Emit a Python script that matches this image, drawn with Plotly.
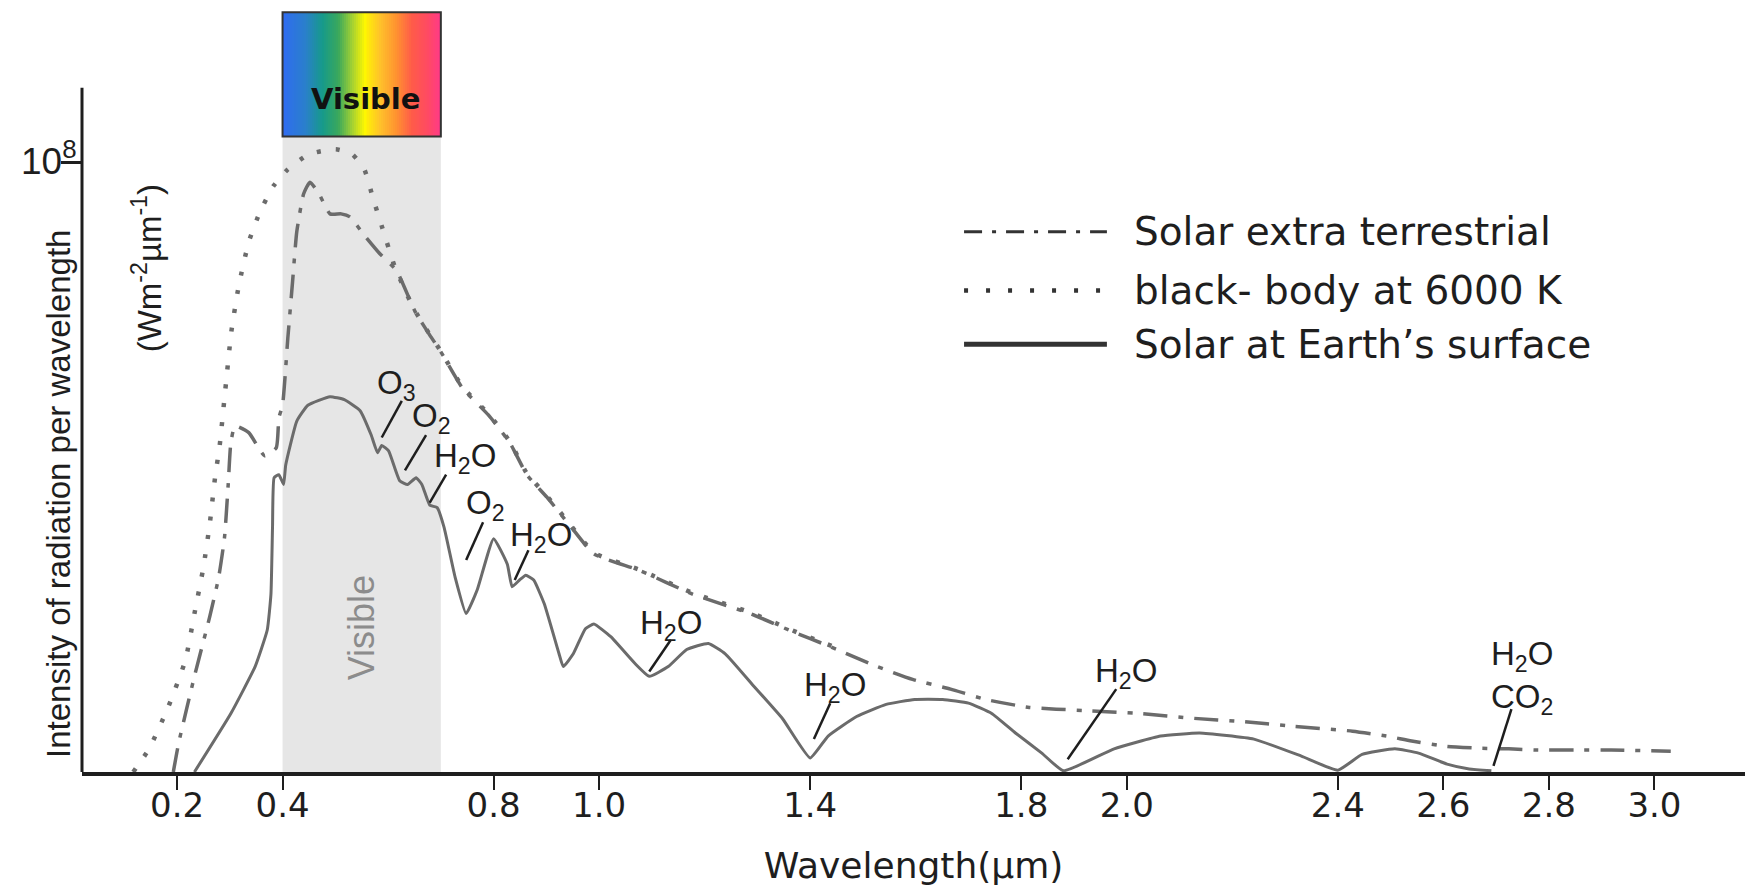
import plotly.graph_objects as go
import numpy as np

# ---------------- data ----------------
# wavelength in micrometres, intensity in units of 1e8 W m^-2 um^-1
surface_wl = [0.233, 0.302, 0.348, 0.371, 0.378, 0.381, 0.384, 0.393, 0.402, 0.406,
              0.427, 0.448, 0.490, 0.517, 0.547, 0.568, 0.580, 0.588, 0.601, 0.622,
              0.637, 0.653, 0.664, 0.679, 0.693, 0.706, 0.727, 0.748, 0.769, 0.800,
              0.826, 0.835, 0.849, 0.861, 0.876, 0.896, 0.924, 0.932, 0.951, 0.974,
              0.990, 1.022, 1.068, 1.095, 1.131, 1.166, 1.207, 1.239, 1.294, 1.348,
              1.400, 1.434, 1.488, 1.544, 1.598, 1.651, 1.700, 1.744, 1.789, 1.839,
              1.880, 1.976, 2.064, 2.138, 2.241, 2.331, 2.400, 2.446, 2.508, 2.553,
              2.607, 2.649, 2.691]
surface_val = [0.000, 0.096, 0.173, 0.233, 0.292, 0.402, 0.483, 0.488, 0.472, 0.504,
               0.576, 0.602, 0.616, 0.611, 0.593, 0.553, 0.524, 0.536, 0.527, 0.478,
               0.472, 0.483, 0.472, 0.438, 0.434, 0.402, 0.320, 0.260, 0.299, 0.383,
               0.341, 0.304, 0.315, 0.323, 0.315, 0.276, 0.194, 0.173, 0.194, 0.235,
               0.243, 0.222, 0.178, 0.157, 0.173, 0.201, 0.211, 0.194, 0.140, 0.087,
               0.023, 0.059, 0.091, 0.111, 0.119, 0.119, 0.113, 0.096, 0.064, 0.031,
               0.002, 0.038, 0.059, 0.064, 0.054, 0.026, 0.003, 0.029, 0.038, 0.031,
               0.013, 0.005, 0.002]

extra_wl = [0.193, 0.203, 0.233, 0.262, 0.279, 0.290, 0.297, 0.302, 0.310, 0.336,
            0.366, 0.388, 0.393, 0.400, 0.410, 0.419, 0.427, 0.440, 0.452, 0.469,
            0.490, 0.511, 0.528, 0.553, 0.584, 0.616, 0.651, 0.679, 0.699, 0.741,
            0.790, 0.831, 0.863, 0.901, 0.947, 0.990, 1.076, 1.177, 1.286, 1.376,
            1.423, 1.459, 1.527, 1.594, 1.666, 1.733, 1.815, 1.917, 2.025, 2.128,
            2.216, 2.315, 2.428, 2.492, 2.540, 2.607, 2.670, 2.724, 2.779, 2.849,
            2.918, 3.031]
extra_val = [0.000, 0.047, 0.157, 0.255, 0.320, 0.385, 0.472, 0.540, 0.568, 0.557,
             0.519, 0.532, 0.581, 0.602, 0.712, 0.805, 0.887, 0.949, 0.968, 0.949,
             0.916, 0.916, 0.911, 0.883, 0.851, 0.823, 0.756, 0.717, 0.691, 0.630,
             0.586, 0.540, 0.488, 0.451, 0.402, 0.358, 0.331, 0.292, 0.260, 0.227,
             0.211, 0.198, 0.173, 0.152, 0.136, 0.119, 0.106, 0.101, 0.096, 0.088,
             0.083, 0.075, 0.067, 0.059, 0.051, 0.042, 0.039, 0.038, 0.036, 0.036,
             0.036, 0.034]

blackbody_wl = [0.117, 0.147, 0.184, 0.216, 0.233, 0.250, 0.262, 0.272, 0.281, 0.290,
                0.303, 0.317, 0.336, 0.357, 0.383, 0.410, 0.450, 0.501, 0.532, 0.555,
                0.572, 0.588, 0.612, 0.635, 0.651, 0.679, 0.699, 0.741, 0.790, 0.831,
                0.863, 0.901, 0.947, 0.990, 1.076, 1.177, 1.286, 1.376, 1.423, 1.467]
blackbody_val = [0.000, 0.038, 0.108, 0.184, 0.260, 0.336, 0.407, 0.483, 0.537, 0.614,
                 0.723, 0.798, 0.870, 0.919, 0.962, 0.989, 1.014, 1.022, 1.014, 0.989,
                 0.940, 0.896, 0.831, 0.785, 0.757, 0.718, 0.692, 0.632, 0.588, 0.542,
                 0.490, 0.453, 0.404, 0.360, 0.332, 0.294, 0.262, 0.229, 0.213, 0.198]

tick_vals = [0.2, 0.4, 0.8, 1.0, 1.4, 1.8, 2.0, 2.4, 2.6, 2.8, 3.0]
tick_text = ["0.2", "0.4", "0.8", "1.0", "1.4", "1.8", "2.0", "2.4", "2.6", "2.8", "3.0"]

visible_band = [0.4, 0.7]          # micrometres
visible_box_y = [1.043, 1.247]     # rainbow box, in intensity units

series_names = ["Solar extra terrestrial", "black- body at 6000 K", "Solar at Earth\u2019s surface"]

absorber_text = ["O<sub>3</sub>", "O<sub>2</sub>", "H<sub>2</sub>O", "O<sub>2</sub>", "H<sub>2</sub>O",
                 "H<sub>2</sub>O", "H<sub>2</sub>O", "H<sub>2</sub>O", "H<sub>2</sub>O<br>CO<sub>2</sub>"]
absorber_x = [0.616, 0.683, 0.746, 0.785, 0.890, 1.136, 1.447, 1.998, 2.749]
absorber_y = [0.635, 0.581, 0.516, 0.439, 0.385, 0.242, 0.140, 0.163, 0.155]
leader_x0 = [0.626, 0.672, 0.710, 0.780, 0.866, 1.136, 1.438, 1.980, 2.729]
leader_y0 = [0.609, 0.553, 0.488, 0.410, 0.364, 0.217, 0.113, 0.136, 0.103]
leader_x1 = [0.588, 0.632, 0.679, 0.748, 0.840, 1.095, 1.407, 1.888, 2.695]
leader_y1 = [0.549, 0.495, 0.442, 0.348, 0.315, 0.165, 0.054, 0.021, 0.010]

# ---------------- styling ----------------
CURVE = "#6b6b6b"
INK = "#1e1e1e"
SANS = "Liberation Sans, Arial, sans-serif"
WIDE = "DejaVu Sans, Verdana, sans-serif"

fig = go.Figure()

# rainbow "Visible" box as a heatmap gradient
n_cells = 80
grad_x = np.linspace(visible_band[0], visible_band[1], n_cells + 1)
fig.add_trace(go.Heatmap(
    x=grad_x, y=visible_box_y, z=[list(range(n_cells))],
    colorscale=[[0.0, "#2f6cf0"], [0.14, "#2a7fcc"], [0.25, "#169a8a"], [0.35, "#3aa85c"],
                [0.44, "#a6d232"], [0.52, "#fff700"], [0.62, "#ffc22a"], [0.72, "#ff9430"],
                [0.82, "#ff5c48"], [0.92, "#ff4a62"], [1.0, "#ff3a86"]],
    showscale=False, hoverinfo="skip", zsmooth=False))

fig.add_trace(go.Scatter(x=blackbody_wl, y=blackbody_val, mode="lines", name=series_names[1],
                         line=dict(color=CURVE, width=4.5, dash="4px,15px", shape="spline", smoothing=0.5),
                         showlegend=False, hoverinfo="skip"))
fig.add_trace(go.Scatter(x=extra_wl, y=extra_val, mode="lines", name=series_names[0],
                         line=dict(color=CURVE, width=3.5, dash="24px,11px,5px,11px", shape="spline", smoothing=0.5),
                         showlegend=False, hoverinfo="skip"))
fig.add_trace(go.Scatter(x=surface_wl, y=surface_val, mode="lines", name=series_names[2],
                         line=dict(color=CURVE, width=3, shape="spline", smoothing=0.4),
                         showlegend=False, hoverinfo="skip"))

shapes = []
# grey visible band
shapes.append(dict(type="rect", xref="x", yref="y", x0=visible_band[0], x1=visible_band[1],
                   y0=0, y1=visible_box_y[0], fillcolor="#e6e6e6", line=dict(width=0), layer="below"))
# box outline
shapes.append(dict(type="rect", xref="x", yref="y", x0=visible_band[0], x1=visible_band[1],
                   y0=visible_box_y[0], y1=visible_box_y[1], line=dict(color="#333333", width=2),
                   fillcolor="rgba(0,0,0,0)", layer="above"))
# y axis line (stops a little above the 10^8 tick)
shapes.append(dict(type="line", xref="paper", yref="paper", x0=0, x1=0, y0=0, y1=0.898,
                   line=dict(color=INK, width=3)))
# leader lines for absorbers
for a, b, c, d in zip(leader_x0, leader_y0, leader_x1, leader_y1):
    shapes.append(dict(type="line", xref="x", yref="y", x0=a, y0=b, x1=c, y1=d,
                       line=dict(color=INK, width=2.5)))

# hand-made legend (long line samples)
legend_rows = [0.7089, 0.6319, 0.5614]
legend_styles = [dict(color="#333333", width=3, dash="18px,10px,4px,10px"),
                 dict(color="#333333", width=4.5, dash="4px,18px"),
                 dict(color="#333333", width=5)]
for yy, st in zip(legend_rows, legend_styles):
    shapes.append(dict(type="line", xref="paper", yref="paper", x0=0.5304, x1=0.6163, y0=yy, y1=yy, line=st))

annotations = []
for name, yy in zip(series_names, legend_rows):
    annotations.append(dict(xref="paper", yref="paper", x=0.6314, y=yy, text=name, showarrow=False,
                            xanchor="left", yanchor="middle", font=dict(family=WIDE, size=39, color=INK)))

for t, x, y in zip(absorber_text, absorber_x, absorber_y):
    annotations.append(dict(xref="x", yref="y", x=x, y=y, text=t, showarrow=False,
                            xanchor="center", yanchor="middle",
                            font=dict(family=SANS, size=33, color=INK)))

# texts for the visible band
annotations.append(dict(xref="x", yref="y", x=0.55, y=0.237, text="Visible", showarrow=False,
                        textangle=-90, font=dict(family=SANS, size=36, color="#8c8c8c")))
annotations.append(dict(xref="x", yref="y", x=0.557, y=1.104, text="<b>Visible</b>", showarrow=False,
                        font=dict(family=WIDE, size=29, color="#111111")))

# y axis labels
annotations.append(dict(xref="paper", yref="y", x=0, xshift=-3, y=1.0, yshift=4, text="10<sup>8</sup>",
                        showarrow=False, xanchor="right", yanchor="middle",
                        font=dict(family=SANS, size=37, color=INK)))
annotations.append(dict(xref="paper", yref="paper", x=-0.0265, y=0.3655,
                        text="Intensity of radiation per wavelength", showarrow=False, textangle=-90,
                        font=dict(family=SANS, size=33, color=INK)))
annotations.append(dict(xref="paper", yref="paper", x=0.0253, y=0.774,
                        text="(Wm<sup>-2</sup>\u00b5m<sup>-1</sup>)", showarrow=False, textangle=-90,
                        font=dict(family=SANS, size=33, color=INK)))

fig.update_layout(
    width=1754, height=889,
    margin=dict(l=82, r=9, t=10, b=113),
    paper_bgcolor="white", plot_bgcolor="white",
    showlegend=False,
    shapes=shapes, annotations=annotations,
    xaxis=dict(range=[0.0199, 3.1717], tickvals=tick_vals, ticktext=tick_text,
               showline=True, linecolor=INK, linewidth=3.5, ticks="outside", ticklen=14,
               tickwidth=2, tickcolor=INK, showgrid=False, zeroline=False,
               ticklabelstandoff=-14,
               tickfont=dict(family=WIDE, size=34, color=INK),
               title=dict(text="Wavelength(\u00b5m)", font=dict(family=WIDE, size=36, color=INK), standoff=30)),
    yaxis=dict(range=[0, 1.2506], tickvals=[1.0], ticktext=[""], ticks="outside", ticklen=20,
               tickwidth=2.5, tickcolor=INK, showline=False, showgrid=False, zeroline=False,
               showticklabels=False),
)

fig.write_html("out.html", config={"displayModeBar": False})
